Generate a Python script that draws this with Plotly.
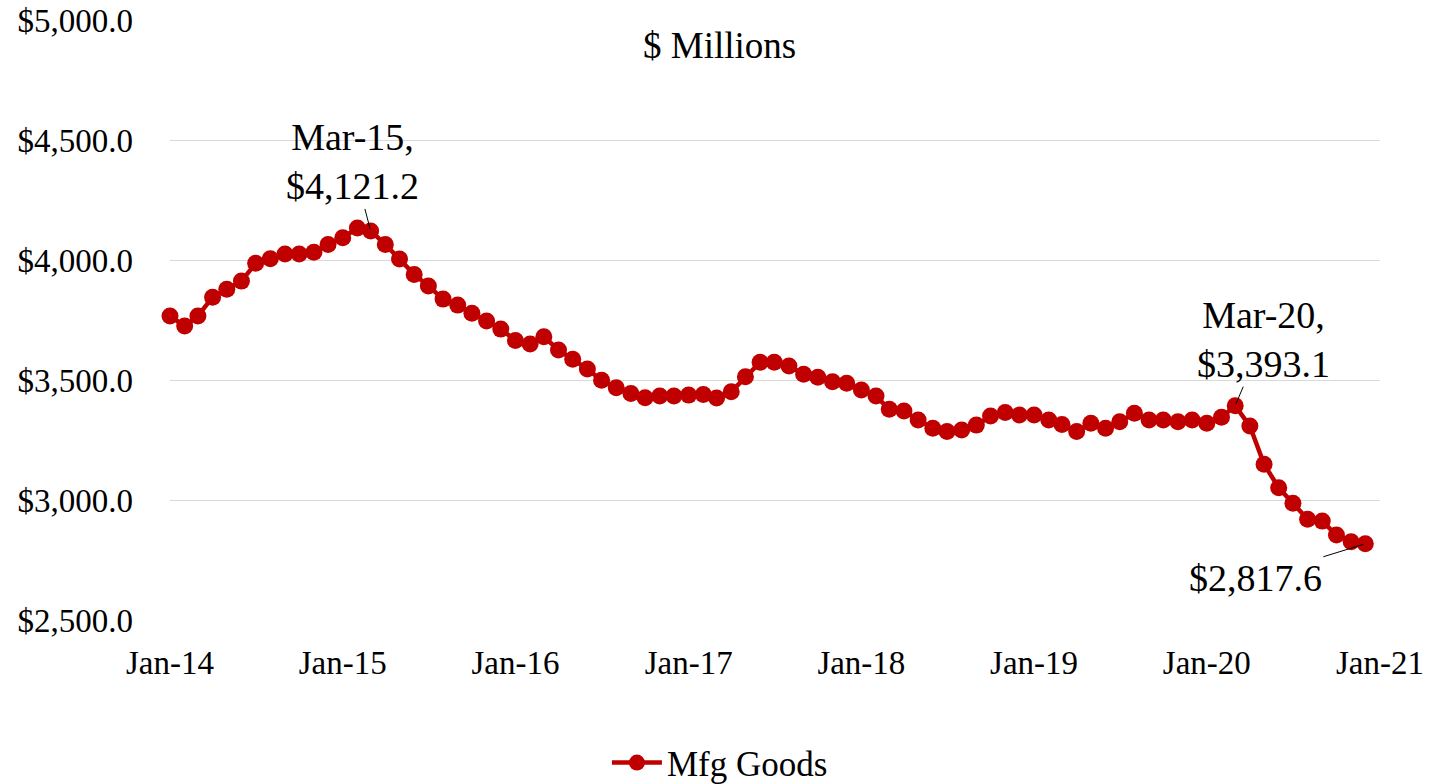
import pandas as pd
import plotly.graph_objects as go

# Monthly manufactured goods value, $ millions, Jan 2014 - Dec 2020
months = pd.date_range("2014-01-01", periods=84, freq="MS")
mfg_2014 = [3767, 3725, 3767, 3845, 3878, 3912, 3986, 4005, 4025, 4025, 4032, 4065]
mfg_2015 = [4093, 4133, 4121.2, 4065, 4004, 3940, 3892, 3837, 3812, 3778, 3746, 3712]
mfg_2016 = [3665, 3650, 3680, 3625, 3586, 3546, 3499, 3468, 3444, 3426, 3433, 3433]
mfg_2017 = [3437, 3440, 3425, 3451, 3514, 3574, 3574, 3558, 3524, 3511, 3493, 3486]
mfg_2018 = [3458, 3433, 3378, 3371, 3333, 3299, 3285, 3292, 3312, 3350, 3365, 3354]
mfg_2019 = [3354, 3333, 3315, 3285, 3320, 3299, 3326, 3361, 3333, 3333, 3326, 3333]
mfg_2020 = [3320, 3345, 3393.1, 3308, 3149, 3051, 2986, 2920, 2912, 2854, 2826, 2817.6]
mfg_goods = mfg_2014 + mfg_2015 + mfg_2016 + mfg_2017 + mfg_2018 + mfg_2019 + mfg_2020

y_ticks = [2500, 3000, 3500, 4000, 4500, 5000]
x_ticks = pd.date_range("2014-01-01", "2021-01-01", freq="12MS")

RED = "#C00000"
FONT = "Liberation Serif"

fig = go.Figure()
fig.add_trace(go.Scatter(
    x=months, y=mfg_goods, name="Mfg Goods", mode="lines+markers",
    line=dict(color=RED, width=4.5),
    marker=dict(color=RED, size=17),
    cliponaxis=False,
))


def callout(idx, text, ax, ay):
    fig.add_annotation(
        x=months[idx], y=mfg_goods[idx], text=text,
        showarrow=True, arrowhead=0, arrowwidth=1, arrowcolor="black",
        ax=ax, ay=ay, standoff=2,
        font=dict(family=FONT, size=38, color="black"),
    )


i_peak = 14   # Mar-15
i_pre = 74    # Mar-20
i_last = 83   # Dec-20
callout(i_peak, f"Mar-15,<br>${mfg_goods[i_peak]:,.1f}", -18, -69)
callout(i_pre, f"Mar-20,<br>${mfg_goods[i_pre]:,.1f}", 28, -66)
callout(i_last, f"${mfg_goods[i_last]:,.1f}", -110, 34)

fig.add_annotation(
    xref="paper", yref="paper", x=0.4545, y=0.958, yanchor="middle",
    text="$ Millions", showarrow=False,
    font=dict(family=FONT, size=37, color="black"),
)

fig.update_layout(
    width=1430, height=784,
    margin=dict(l=170, r=50, t=20, b=164, autoexpand=False),
    paper_bgcolor="white", plot_bgcolor="white",
    font=dict(family=FONT, color="black"),
    showlegend=True,
    legend=dict(
        orientation="h", x=0.4545, xanchor="center", y=-0.238, yanchor="middle",
        itemwidth=50,
        font=dict(family=FONT, size=35, color="black"),
    ),
)
fig.update_xaxes(
    range=[x_ticks[0], x_ticks[-1]],
    tickvals=x_ticks, tickformat="%b-%y",
    showgrid=False, showline=False, zeroline=False, automargin=False,
    tickfont=dict(family=FONT, size=33, color="black"),
    ticklabelstandoff=20,
)
fig.update_yaxes(
    range=[2500, 5000], tickvals=y_ticks, tickformat="$,.1f",
    showgrid=True, gridcolor="#D9D9D9", gridwidth=1,
    showline=False, zeroline=False, automargin=False,
    tickfont=dict(family=FONT, size=33, color="black"),
    ticklabelstandoff=36,
)

fig.write_html("out.html")
